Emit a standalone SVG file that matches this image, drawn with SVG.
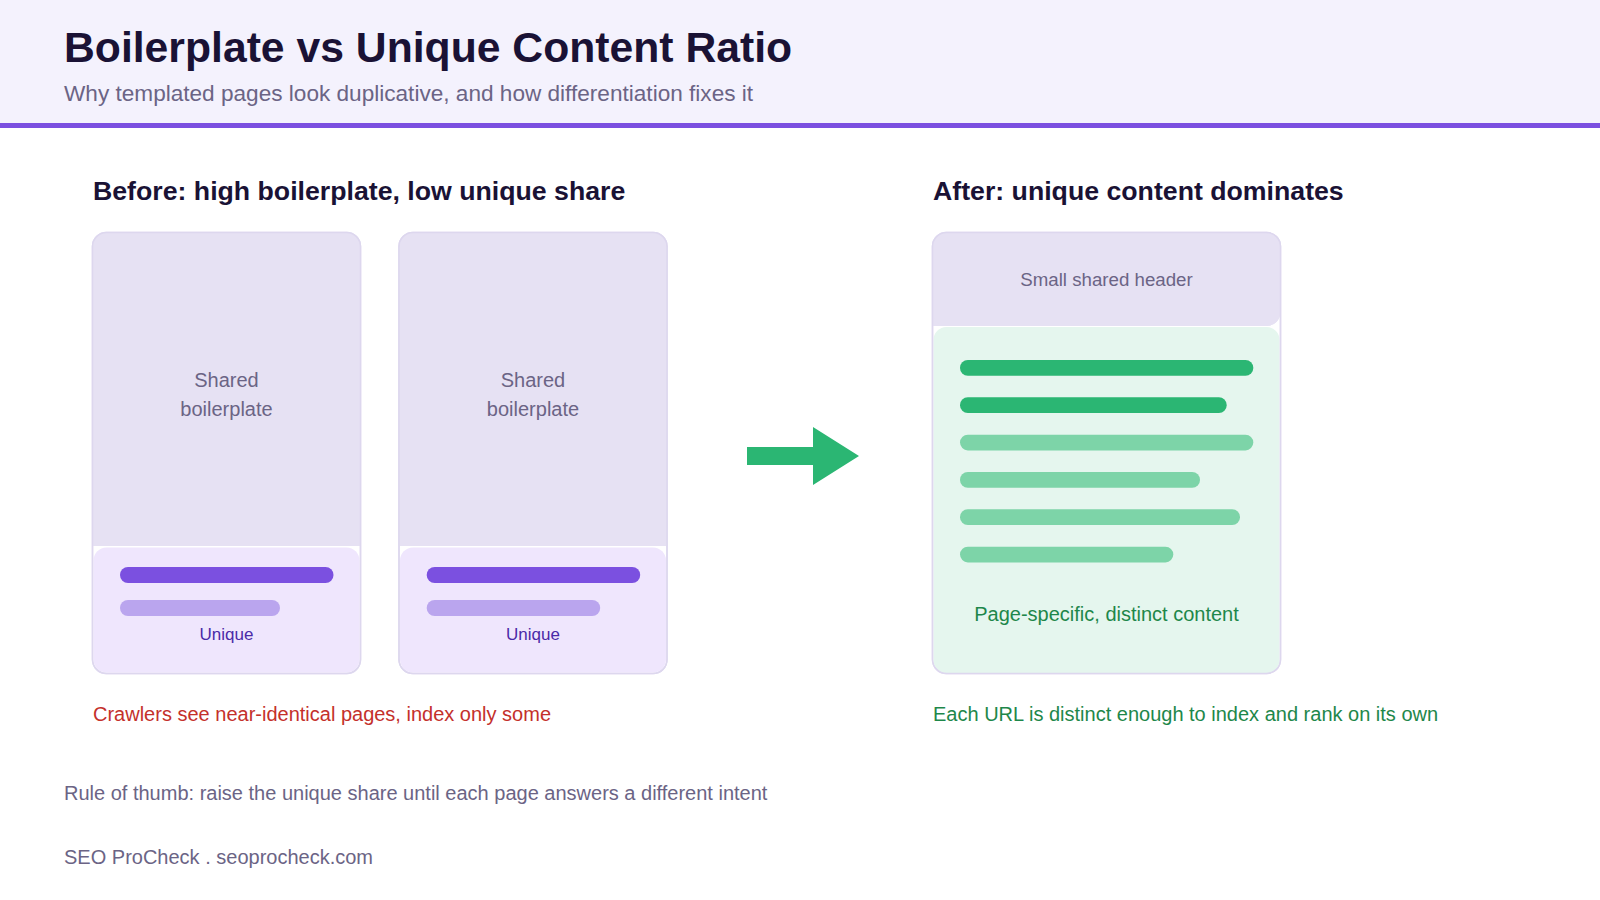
<svg xmlns="http://www.w3.org/2000/svg" width="1600" height="900" viewBox="0 0 1600 900">
<style>
text { font-family: "Liberation Sans", Arial, sans-serif; }
.title { font-size: 42.7px; font-weight: bold; fill: #1a1235; }
.sub { font-size: 22.6px; fill: #6b6485; }
.h2 { font-size: 26.7px; font-weight: bold; fill: #1a1235; }
.muted { font-size: 20px; fill: #6b6485; }
.uniq { font-size: 17px; fill: #4a2aa8; }
.red { font-size: 20px; fill: #c4302b; }
.green { font-size: 20px; fill: #1e874a; }
.card { fill: #ffffff; stroke: #ddd7ee; stroke-width: 1.5; }
.outline { fill: none; stroke: #ddd7ee; stroke-width: 1.5; }
.boiler { fill: #e6e1f3; }
.unique { fill: #efe6fd; }
.ubar1 { fill: #7b50e0; }
.ubar2 { fill: #baa5ee; }
.gzone { fill: #e5f6ee; }
.gbar1 { fill: #2bb673; }
.gbar2 { fill: #7dd4a8; }
</style>
<rect x="0" y="0" width="1600" height="900" fill="#ffffff"/>
<g id="header">
<rect x="0" y="0" width="1600" height="124" fill="#f4f2fd"/>
<rect x="0" y="123" width="1600" height="5" fill="#7b50e0"/>
<text class="title" x="64" y="62">Boilerplate vs Unique Content Ratio</text>
<text class="sub" x="64" y="101">Why templated pages look duplicative, and how differentiation fixes it</text>
</g>
<text class="h2" x="93" y="200">Before: high boilerplate, low unique share</text>
<text class="h2" x="933" y="200">After: unique content dominates</text>
<g id="page-a">
<rect class="card" x="92.5" y="232.5" width="268" height="441" rx="14"/>
<path class="boiler" d="M92.5,546 V246.5 a14,14 0 0 1 14,-14 H346.5 a14,14 0 0 1 14,14 V546 Z"/>
<rect class="unique" x="93.5" y="547.5" width="266" height="125" rx="13"/>
<rect class="outline" x="92.5" y="232.5" width="268" height="441" rx="14"/>
<text class="muted" x="226.5" y="387" text-anchor="middle">Shared</text>
<text class="muted" x="226.5" y="416" text-anchor="middle">boilerplate</text>
<rect class="ubar1" x="120" y="567" width="213.5" height="16" rx="8"/>
<rect class="ubar2" x="120" y="600" width="160" height="16" rx="8"/>
<text class="uniq" x="226.5" y="640" text-anchor="middle">Unique</text>
</g>
<g id="page-b">
<rect class="card" x="399" y="232.5" width="268" height="441" rx="14"/>
<path class="boiler" d="M399,546 V246.5 a14,14 0 0 1 14,-14 H653 a14,14 0 0 1 14,14 V546 Z"/>
<rect class="unique" x="400" y="547.5" width="266" height="125" rx="13"/>
<rect class="outline" x="399" y="232.5" width="268" height="441" rx="14"/>
<text class="muted" x="533" y="387" text-anchor="middle">Shared</text>
<text class="muted" x="533" y="416" text-anchor="middle">boilerplate</text>
<rect class="ubar1" x="426.7" y="567" width="213.5" height="16" rx="8"/>
<rect class="ubar2" x="426.7" y="600" width="173.5" height="16" rx="8"/>
<text class="uniq" x="533" y="640" text-anchor="middle">Unique</text>
</g>
<g id="connectors">
<path d="M747,447 H813 V427 L859,456 L813,485 V465 H747 Z" fill="#2bb673"/>
</g>
<g id="page-after">
<rect class="card" x="932.5" y="232.5" width="348" height="441" rx="14"/>
<path class="boiler" d="M932.5,326 V246.5 a14,14 0 0 1 14,-14 H1266.5 a14,14 0 0 1 14,14 V312 a14,14 0 0 1 -14,14 Z"/>
<rect class="gzone" x="933.5" y="327" width="346" height="346" rx="13"/>
<path class="boiler" d="M932.5,300 H1280.5 V312 a14,14 0 0 1 -14,14 H946.5 a14,14 0 0 1 -14,-14 Z"/>
<rect class="outline" x="932.5" y="232.5" width="348" height="441" rx="14"/>
<text class="muted" x="1106.5" y="286" text-anchor="middle" style="font-size:18.7px">Small shared header</text>
<rect class="gbar1" x="960" y="360" width="293.3" height="15.7" rx="7.8"/>
<rect class="gbar1" x="960" y="397.3" width="266.7" height="15.7" rx="7.8"/>
<rect class="gbar2" x="960" y="434.7" width="293.3" height="15.7" rx="7.8"/>
<rect class="gbar2" x="960" y="472" width="240" height="15.7" rx="7.8"/>
<rect class="gbar2" x="960" y="509.3" width="280" height="15.7" rx="7.8"/>
<rect class="gbar2" x="960" y="546.7" width="213.3" height="15.7" rx="7.8"/>
<text class="green" x="1106.5" y="621" text-anchor="middle">Page-specific, distinct content</text>
</g>
<text class="red" x="93" y="721">Crawlers see near-identical pages, index only some</text>
<text class="green" x="933" y="721">Each URL is distinct enough to index and rank on its own</text>
<text class="muted" x="64" y="800">Rule of thumb: raise the unique share until each page answers a different intent</text>
<text class="muted" x="64" y="864">SEO ProCheck . seoprocheck.com</text>
</svg>
